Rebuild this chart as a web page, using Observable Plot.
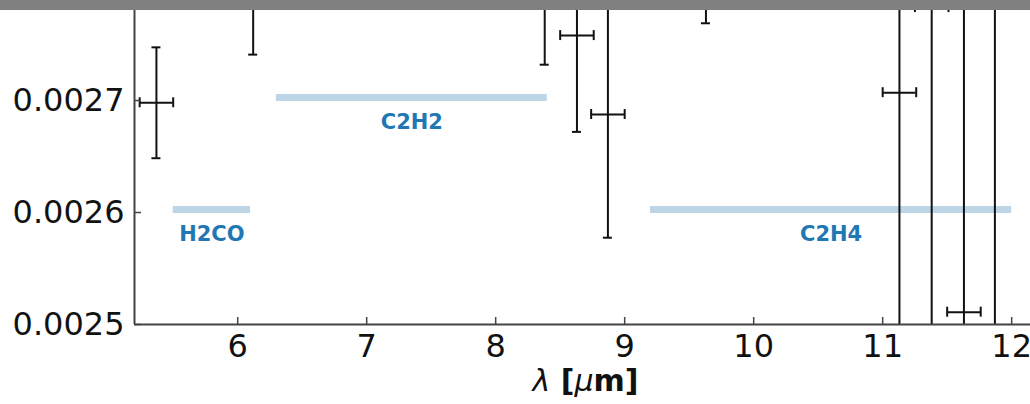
<!DOCTYPE html>
<html>
<head>
<meta charset="utf-8">
<script src="https://cdn.jsdelivr.net/npm/d3@7"></script>
<script src="https://cdn.jsdelivr.net/npm/@observablehq/plot@0.6"></script>
<style>
  html, body { margin: 0; padding: 0; background: #fff; }
  #topbar { width: 1030px; height: 10px; background: #808080; }
  #chart svg { display: block; }
</style>
</head>
<body>
<div id="topbar"></div>
<div id="chart"></div>
<script>
// ---- data ----
const pointX    = [5.37, 6.12, 8.38, 8.63, 8.87, 9.63, 11.13, 11.38, 11.63, 11.87];
const pointY    = [0.002698, 0.00283, 0.00284, 0.002758, 0.0026875, 0.00285, 0.002707, 0.002783, 0.002511, 0.00290];
const pointXErr = [0.13, 0.13, 0.13, 0.13, 0.13, 0.13, 0.13, 0.13, 0.13, 0.13];
const pointYErr = [0.0000495, 0.000089, 0.000108, 0.000086, 0.00011, 0.000081, 0.0004, 0.0004, 0.0004, 0.0005];

const bandNames = ["H2CO", "C2H2", "C2H4"];
const bandStart = [5.5, 6.3, 9.2];
const bandEnd   = [6.1, 8.4, 12.0];
const bandY     = [0.0026027, 0.0027027, 0.0026027];

const xTicks = [6, 7, 8, 9, 10, 11, 12];
const xTickLabels = ["6", "7", "8", "9", "10", "11", "12"];
const yTicks = [0.0025, 0.0026, 0.0027];
const yTickLabels = ["0.0025", "0.0026", "0.0027"];

const xDomain = [5.2, 12.146];
const yDomain = [0.0025, 0.0027804];
const xLabel = "λ [μm]";

// ---- build ----
const pts = pointX.map((x, i) => ({x, y: pointY[i], xe: pointXErr[i], ye: pointYErr[i]}));
const bands = bandNames.map((n, i) => ({n, a: bandStart[i], b: bandEnd[i], y: bandY[i]}));

const ink = "#111";
const axisInk = "#444";
const errW = 2;

const svg = Plot.plot({
  width: 1030,
  height: 394,
  marginLeft: 134,
  marginRight: 0,
  marginTop: 0,
  marginBottom: 80,
  style: {fontFamily: "DejaVu Sans", background: "white", overflow: "hidden"},
  x: {domain: xDomain, axis: null},
  y: {domain: yDomain, axis: null},
  marks: [
    // molecule bands
    Plot.ruleY(bands, {y: "y", x1: "a", x2: "b", stroke: "#bcd6e8", strokeWidth: 7, clip: true}),
    Plot.text(bands, {x: d => (d.a + d.b) / 2, y: "y", text: "n", dy: 25, fill: "#1f77b4",
      fontWeight: "bold", fontSize: 21}),
    // error bars
    Plot.ruleX(pts, {x: "x", y1: d => d.y - d.ye, y2: d => d.y + d.ye, stroke: ink, strokeWidth: errW, clip: true}),
    Plot.ruleY(pts, {y: "y", x1: d => d.x - d.xe, x2: d => d.x + d.xe, stroke: ink, strokeWidth: errW, clip: true}),
    Plot.ruleY(pts, {y: d => d.y - d.ye, x1: "x", x2: "x", insetLeft: -4.5, insetRight: -4.5, stroke: ink, strokeWidth: errW, clip: true}),
    Plot.ruleY(pts, {y: d => d.y + d.ye, x1: "x", x2: "x", insetLeft: -4.5, insetRight: -4.5, stroke: ink, strokeWidth: errW, clip: true}),
    Plot.ruleX(pts, {x: d => d.x - d.xe, y1: "y", y2: "y", insetTop: -5, insetBottom: -5, stroke: ink, strokeWidth: errW, clip: true}),
    Plot.ruleX(pts, {x: d => d.x + d.xe, y1: "y", y2: "y", insetTop: -5, insetBottom: -5, stroke: ink, strokeWidth: errW, clip: true}),
    // spines
    Plot.ruleX([xDomain[0]], {stroke: axisInk, strokeWidth: 2}),
    Plot.ruleY([yDomain[0]], {stroke: axisInk, strokeWidth: 2}),
    // inward ticks
    Plot.ruleX(xTicks, {x: d => d, y1: yDomain[0], y2: yDomain[0], insetTop: -7, stroke: axisInk, strokeWidth: 1.5}),
    Plot.ruleY(yTicks, {y: d => d, x1: xDomain[0], x2: xDomain[0], insetRight: -7, stroke: axisInk, strokeWidth: 1.5}),
    // tick labels
    Plot.text(xTicks, {x: d => d, y: yDomain[0], text: (d, i) => xTickLabels[i], dy: 22, fontSize: 32, fill: "#111"}),
    Plot.text(yTicks, {x: xDomain[0], y: d => d, text: (d, i) => yTickLabels[i], dx: -10, textAnchor: "end", fontSize: 32, fill: "#111"}),
    // axis label
    Plot.text([xLabel], {frameAnchor: "bottom", lineAnchor: "middle", dy: 57, dx: 3, text: d => d, fontSize: 30, fontWeight: "bold", fill: "#111"})
  ]
});

// style the axis label like matplotlib mathtext: italic λ and μ
for (const t of svg.querySelectorAll("text")) {
  if (t.textContent === xLabel) {
    t.textContent = "";
    const parts = [["λ", "italic", "normal"], [" [", "normal", "bold"], ["μ", "italic", "normal"], ["m]", "normal", "bold"]];
    for (const [s, fs, fw] of parts) {
      const ts = document.createElementNS("http://www.w3.org/2000/svg", "tspan");
      ts.textContent = s;
      ts.setAttribute("font-style", fs);
      ts.setAttribute("font-weight", fw);
      t.appendChild(ts);
    }
  }
}

document.getElementById("chart").appendChild(svg);
</script>
</body>
</html>
